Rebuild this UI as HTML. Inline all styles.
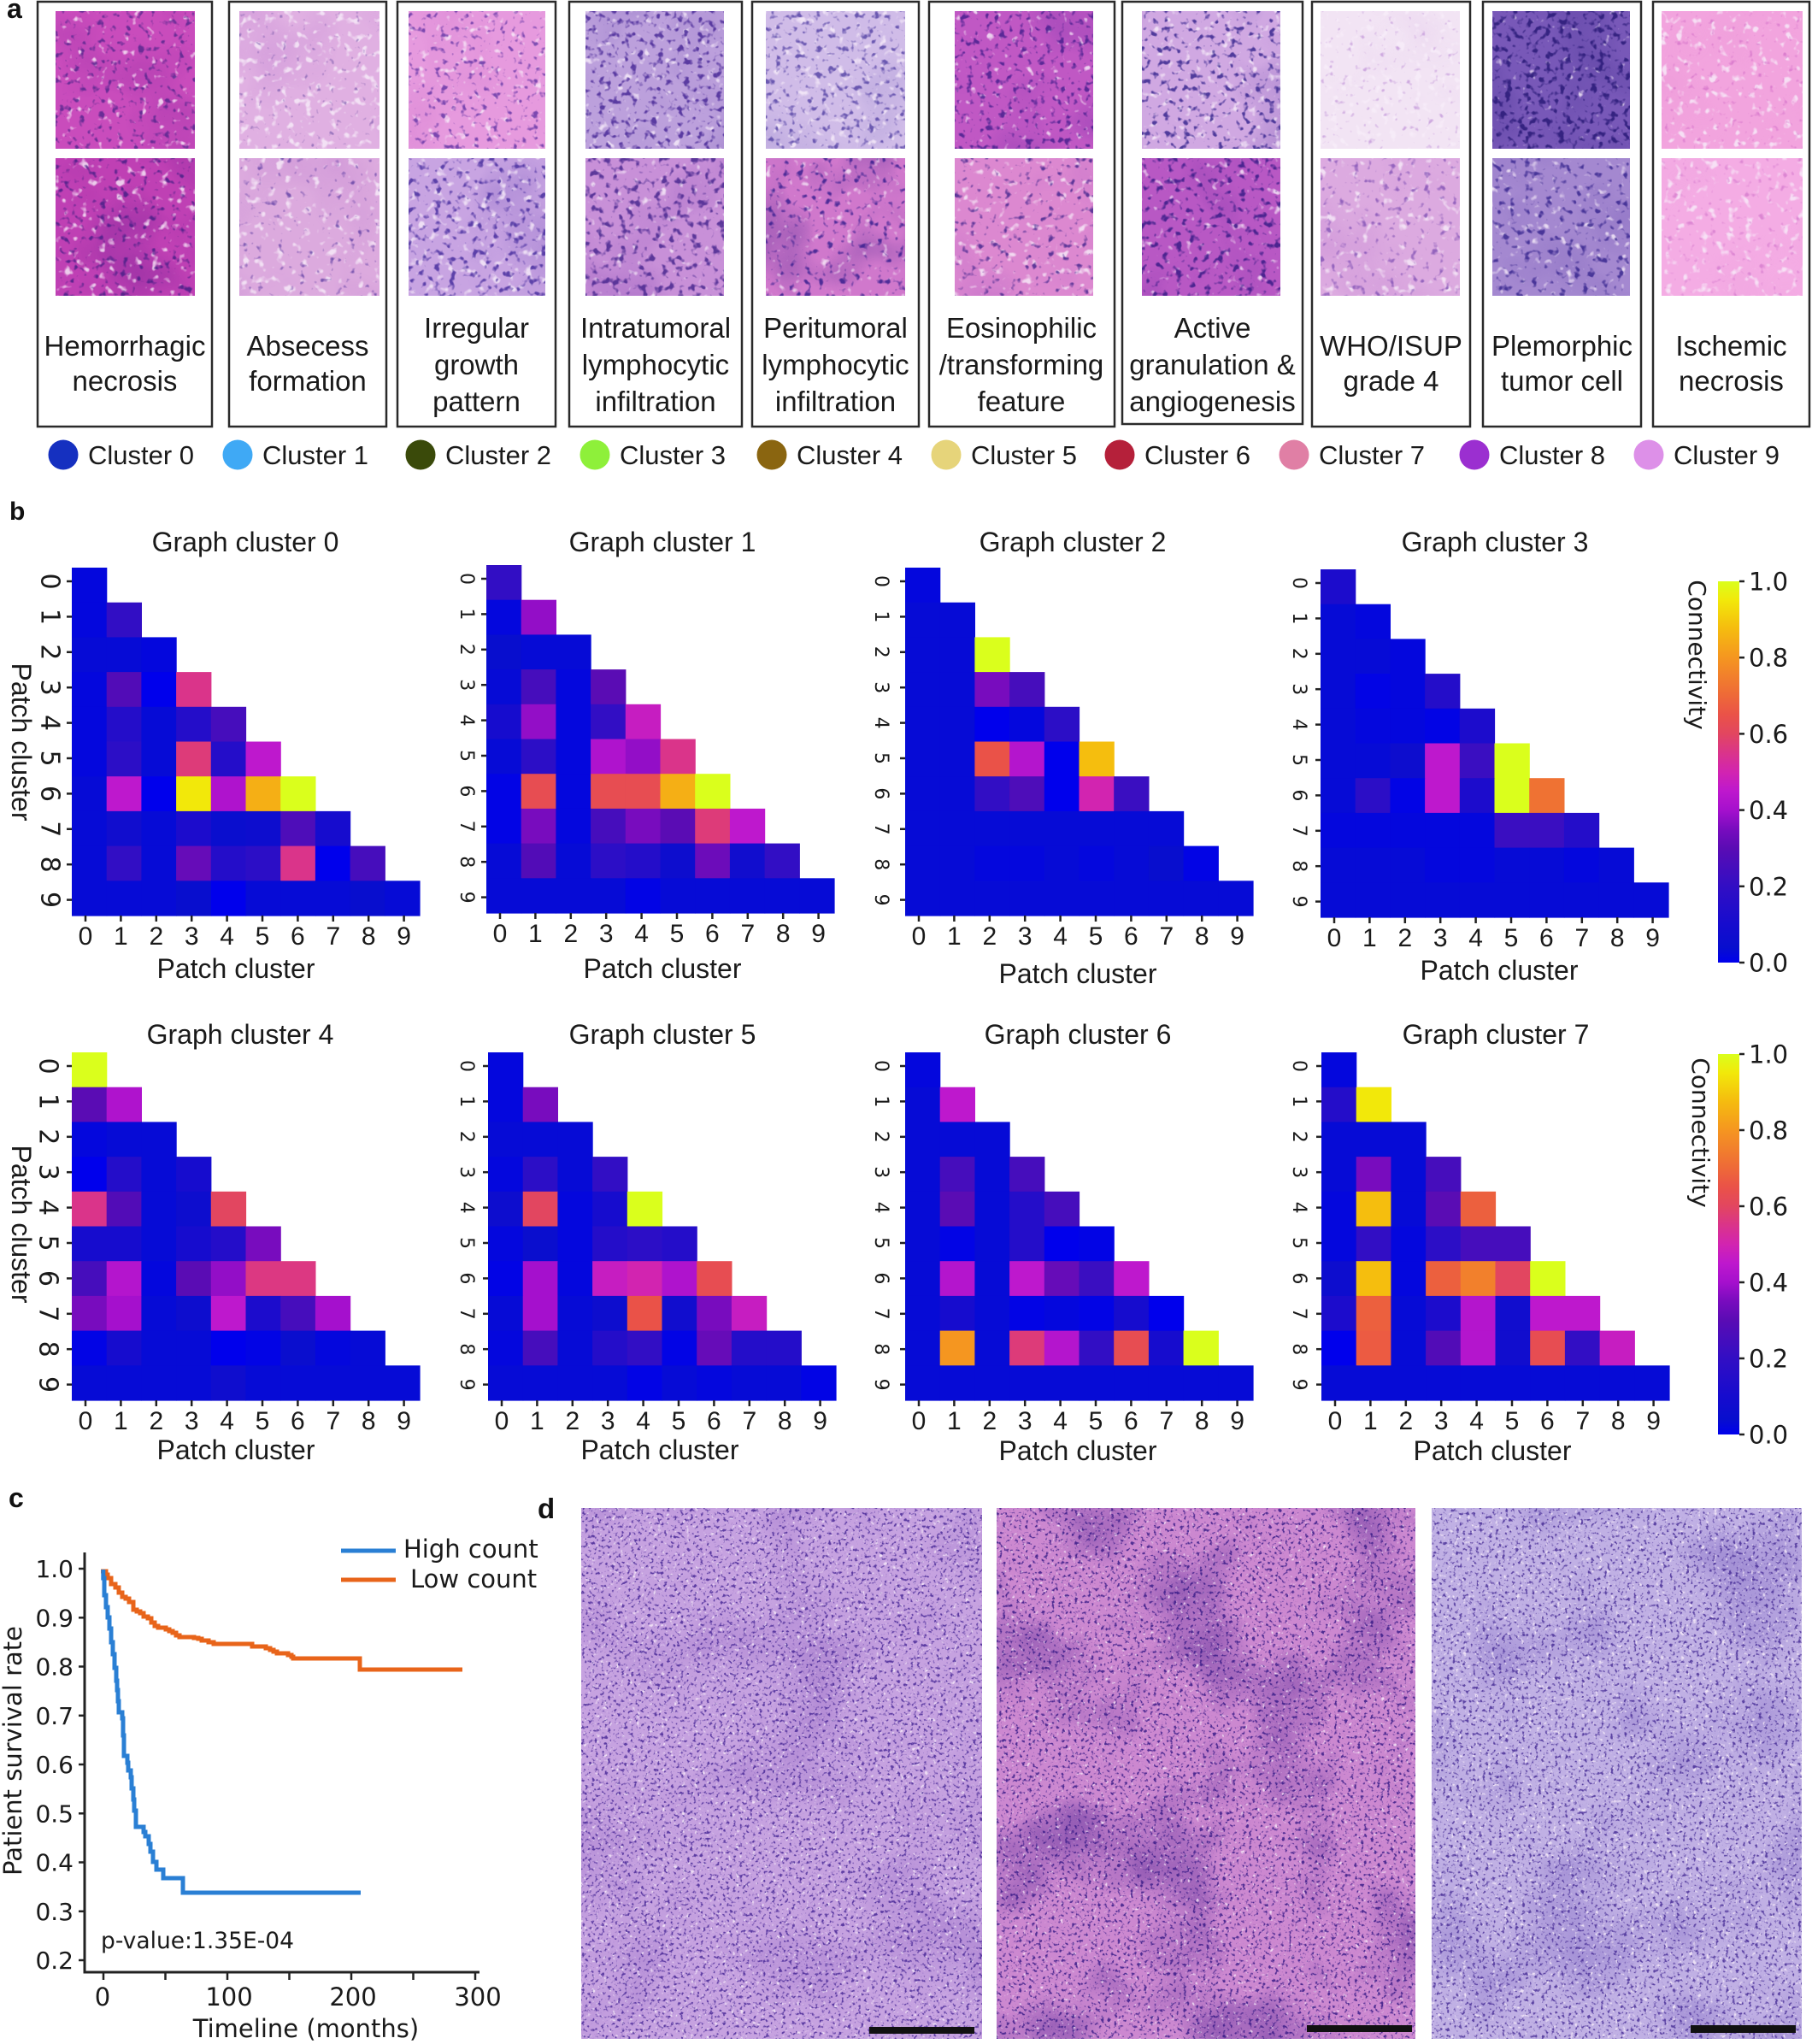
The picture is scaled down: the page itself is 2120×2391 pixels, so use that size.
<!DOCTYPE html>
<html><head><meta charset="utf-8">
<style>
html,body{margin:0;padding:0;background:#fff;}
svg{display:block;}
.l{font-family:"Liberation Sans",Arial,sans-serif;fill:#1a1a1a;}
.d{font-family:"DejaVu Sans","Liberation Sans",sans-serif;fill:#1a1a1a;}
.b{font-family:"Liberation Sans",Arial,sans-serif;font-weight:bold;fill:#111;}
</style></head><body>
<svg id="s" xmlns="http://www.w3.org/2000/svg" width="2120" height="2391" viewBox="0 0 2120 2391">
<defs id="defs"></defs>
<rect width="2120" height="2391" fill="#fff"/>
<g id="tiles"></g>

<!-- Panel a -->
<text class="b" x="8" y="21" font-size="32">a</text>
<g fill="none" stroke="#2a2a2a" stroke-width="2.5">
<rect x="44" y="2" width="204" height="497"/>
<rect x="268" y="2" width="184" height="497"/>
<rect x="465" y="2" width="185" height="497"/>
<rect x="666" y="2" width="202" height="497"/>
<rect x="880" y="2" width="195" height="497"/>
<rect x="1087" y="2" width="217" height="497"/>
<rect x="1313" y="2" width="211" height="494"/>
<rect x="1535" y="2" width="185" height="497"/>
<rect x="1735" y="2" width="185" height="497"/>
<rect x="1934" y="2" width="183" height="497"/>
</g>
<g class="l" font-size="33" text-anchor="middle">
<text x="146" y="416">Hemorrhagic</text><text x="146" y="457">necrosis</text>
<text x="360" y="416">Absecess</text><text x="360" y="457">formation</text>
<text x="557.5" y="395">Irregular</text><text x="557.5" y="438">growth</text><text x="557.5" y="481">pattern</text>
<text x="767" y="395">Intratumoral</text><text x="767" y="438">lymphocytic</text><text x="767" y="481">infiltration</text>
<text x="977.5" y="395">Peritumoral</text><text x="977.5" y="438">lymphocytic</text><text x="977.5" y="481">infiltration</text>
<text x="1195" y="395">Eosinophilic</text><text x="1195" y="438">/transforming</text><text x="1195" y="481">feature</text>
<text x="1418.5" y="395">Active</text><text x="1418.5" y="438">granulation &amp;</text><text x="1418.5" y="481">angiogenesis</text>
<text x="1627.5" y="416">WHO/ISUP</text><text x="1627.5" y="457">grade 4</text>
<text x="1827.5" y="416">Plemorphic</text><text x="1827.5" y="457">tumor cell</text>
<text x="2025.5" y="416">Ischemic</text><text x="2025.5" y="457">necrosis</text>
</g>
<g>
<circle cx="74" cy="532" r="17.5" fill="#1530c0"/>
<circle cx="278" cy="532" r="17.5" fill="#3fa9f5"/>
<circle cx="492" cy="532" r="17.5" fill="#3a4a0a"/>
<circle cx="696" cy="532" r="17.5" fill="#8ef03a"/>
<circle cx="903" cy="532" r="17.5" fill="#8a6510"/>
<circle cx="1107" cy="532" r="17.5" fill="#e6d47a"/>
<circle cx="1310" cy="532" r="17.5" fill="#b5203a"/>
<circle cx="1514" cy="532" r="17.5" fill="#e07fa5"/>
<circle cx="1725" cy="532" r="17.5" fill="#9b2fd0"/>
<circle cx="1929" cy="532" r="17.5" fill="#dd90e8"/>
</g>
<g class="l" font-size="31">
<text x="103" y="543">Cluster 0</text>
<text x="307" y="543">Cluster 1</text>
<text x="521" y="543">Cluster 2</text>
<text x="725" y="543">Cluster 3</text>
<text x="932" y="543">Cluster 4</text>
<text x="1136" y="543">Cluster 5</text>
<text x="1339" y="543">Cluster 6</text>
<text x="1543" y="543">Cluster 7</text>
<text x="1754" y="543">Cluster 8</text>
<text x="1958" y="543">Cluster 9</text>
</g>

<!-- Panel b -->
<text class="b" x="11" y="608" font-size="30">b</text>
<g id="hm"></g>
<g class="l" font-size="32" text-anchor="middle">
<text x="287" y="645">Graph cluster 0</text>
<text x="775" y="645">Graph cluster 1</text>
<text x="1255" y="645">Graph cluster 2</text>
<text x="1749" y="645">Graph cluster 3</text>
<text x="281" y="1221">Graph cluster 4</text>
<text x="775" y="1221">Graph cluster 5</text>
<text x="1261" y="1221">Graph cluster 6</text>
<text x="1750" y="1221">Graph cluster 7</text>
<text x="276" y="1144">Patch cluster</text>
<text x="775" y="1144">Patch cluster</text>
<text x="1261" y="1150">Patch cluster</text>
<text x="1754" y="1146">Patch cluster</text>
<text x="276" y="1707">Patch cluster</text>
<text x="772" y="1707">Patch cluster</text>
<text x="1261" y="1708">Patch cluster</text>
<text x="1746" y="1708">Patch cluster</text>
<text transform="translate(25,868) rotate(90)" y="11">Patch cluster</text>
<text transform="translate(25,1432) rotate(90)" y="11">Patch cluster</text>
</g>
<!-- x tick labels -->
<g class="l" font-size="30" text-anchor="middle">
<text x="100 141.4 182.8 224.2 265.6 307 348.4 389.8 431.2 472.6" y="1105">0123456789</text>
<text x="585 626.4 667.8 709.2 750.6 792 833.4 874.8 916.2 957.6" y="1102">0123456789</text>
<text x="1075 1116.4 1157.8 1199.2 1240.6 1282 1323.4 1364.8 1406.2 1447.6" y="1105">0123456789</text>
<text x="1561 1602.4 1643.8 1685.2 1726.6 1768 1809.4 1850.8 1892.2 1933.6" y="1107">0123456789</text>
<text x="100 141.4 182.8 224.2 265.6 307 348.4 389.8 431.2 472.6" y="1672">0123456789</text>
<text x="587 628.4 669.8 711.2 752.6 794 835.4 876.8 918.2 959.6" y="1672">0123456789</text>
<text x="1075 1116.4 1157.8 1199.2 1240.6 1282 1323.4 1364.8 1406.2 1447.6" y="1672">0123456789</text>
<text x="1562 1603.4 1644.8 1686.2 1727.6 1769 1810.4 1851.8 1893.2 1934.6" y="1672">0123456789</text>
</g>
<!-- y tick labels (rotated) -->
<g class="d" text-anchor="middle">
<text font-size="30" transform="translate(59,664) rotate(90)" x="16 57.4 98.8 140.2 181.6 223 264.4 305.8 347.2 388.6" y="10.5">0123456789</text>
<text font-size="22" transform="translate(547,661) rotate(90)" x="16 57.4 98.8 140.2 181.6 223 264.4 305.8 347.2 388.6" y="7.8">0123456789</text>
<text font-size="22" transform="translate(1032,664) rotate(90)" x="16 57.4 98.8 140.2 181.6 223 264.4 305.8 347.2 388.6" y="7.8">0123456789</text>
<text font-size="22" transform="translate(1521,666) rotate(90)" x="16 57.4 98.8 140.2 181.6 223 264.4 305.8 347.2 388.6" y="7.8">0123456789</text>
<text font-size="30" transform="translate(57,1231) rotate(90)" x="16 57.4 98.8 140.2 181.6 223 264.4 305.8 347.2 388.6" y="10.5">0123456789</text>
<text font-size="22" transform="translate(547,1231) rotate(90)" x="16 57.4 98.8 140.2 181.6 223 264.4 305.8 347.2 388.6" y="7.8">0123456789</text>
<text font-size="22" transform="translate(1032,1231) rotate(90)" x="16 57.4 98.8 140.2 181.6 223 264.4 305.8 347.2 388.6" y="7.8">0123456789</text>
<text font-size="22" transform="translate(1521,1231) rotate(90)" x="16 57.4 98.8 140.2 181.6 223 264.4 305.8 347.2 388.6" y="7.8">0123456789</text>
</g>
<!-- colorbars -->
<rect x="2010" y="680" width="25" height="446" fill="url(#cb)"/>
<rect x="2010" y="1233" width="25" height="445" fill="url(#cb)"/>
<g stroke="#222" stroke-width="2.5">
<line x1="2035" y1="680" x2="2041" y2="680"/><line x1="2035" y1="769.2" x2="2041" y2="769.2"/><line x1="2035" y1="858.4" x2="2041" y2="858.4"/><line x1="2035" y1="947.6" x2="2041" y2="947.6"/><line x1="2035" y1="1036.8" x2="2041" y2="1036.8"/><line x1="2035" y1="1126" x2="2041" y2="1126"/>
<line x1="2035" y1="1233" x2="2041" y2="1233"/><line x1="2035" y1="1322" x2="2041" y2="1322"/><line x1="2035" y1="1411" x2="2041" y2="1411"/><line x1="2035" y1="1500" x2="2041" y2="1500"/><line x1="2035" y1="1589" x2="2041" y2="1589"/><line x1="2035" y1="1678" x2="2041" y2="1678"/>
</g>
<g class="d" font-size="29">
<text x="2046" y="690.5">1.0</text><text x="2046" y="779.7">0.8</text><text x="2046" y="868.9">0.6</text><text x="2046" y="958.1">0.4</text><text x="2046" y="1047.3">0.2</text><text x="2046" y="1136.5">0.0</text>
<text x="2046" y="1243.5">1.0</text><text x="2046" y="1332.5">0.8</text><text x="2046" y="1421.5">0.6</text><text x="2046" y="1510.5">0.4</text><text x="2046" y="1599.5">0.2</text><text x="2046" y="1688.5">0.0</text>
</g>
<g class="d" font-size="28" text-anchor="middle">
<text transform="translate(1986,766) rotate(90)" y="10">Connectivity</text>
<text transform="translate(1990,1325) rotate(90)" y="10">Connectivity</text>
</g>

<!-- Panel c -->
<text class="b" x="10" y="1763" font-size="32">c</text>
<g stroke="#222" stroke-width="3" fill="none">
<path d="M99,1816 V2307 H561"/>
</g>
<g stroke="#222" stroke-width="2.5">
<line x1="92" y1="1835" x2="99" y2="1835"/><line x1="92" y1="1892.3" x2="99" y2="1892.3"/><line x1="92" y1="1949.5" x2="99" y2="1949.5"/><line x1="92" y1="2006.8" x2="99" y2="2006.8"/><line x1="92" y1="2064" x2="99" y2="2064"/><line x1="92" y1="2121.3" x2="99" y2="2121.3"/><line x1="92" y1="2178.5" x2="99" y2="2178.5"/><line x1="92" y1="2235.8" x2="99" y2="2235.8"/><line x1="92" y1="2293" x2="99" y2="2293"/>
<line x1="121" y1="2307" x2="121" y2="2316"/><line x1="193.5" y1="2307" x2="193.5" y2="2316"/><line x1="266" y1="2307" x2="266" y2="2316"/><line x1="338.5" y1="2307" x2="338.5" y2="2316"/><line x1="411" y1="2307" x2="411" y2="2316"/><line x1="483.5" y1="2307" x2="483.5" y2="2316"/><line x1="556" y1="2307" x2="556" y2="2316"/>
</g>
<g class="d" font-size="28" text-anchor="end">
<text x="86" y="1845">1.0</text><text x="86" y="1902.3">0.9</text><text x="86" y="1959.5">0.8</text><text x="86" y="2016.8">0.7</text><text x="86" y="2074">0.6</text><text x="86" y="2131.3">0.5</text><text x="86" y="2188.5">0.4</text><text x="86" y="2245.8">0.3</text><text x="86" y="2303">0.2</text>
</g>
<g class="d" font-size="29" text-anchor="middle">
<text x="120" y="2346">0</text><text x="268" y="2346">100</text><text x="413" y="2346">200</text><text x="559" y="2346">300</text>
<text x="358" y="2383">Timeline (months)</text>
<text transform="translate(15,2048) rotate(-90)" y="10">Patient survival rate</text>
</g>
<path d="M118,1838 H124 V1842 H126 V1846 H130 V1853 H135 V1857 H139 V1863 H143 V1868 H147 V1870 H151 V1874 H156 V1883 H160 V1885 H164 V1887 H168 V1891 H173 V1893 H177 V1898 H181 V1902 H185 V1904 H194 V1906 H198 V1908 H202 V1910 H206 V1913 H210 V1915 H227 V1916 H232 V1917 H236 V1919 H244 V1921 H250 V1923 H295 V1926 H311 V1928 H316 V1930 H320 V1932 H324 V1934 H337 V1936 H341 V1938 H343 V1940 H421 V1953 H541" fill="none" stroke="#e8641a" stroke-width="5"/>
<path d="M120.8,1836 V1846 H122 V1866 H124 V1880 H126 V1892 H128 V1905 H130 V1921 H132 V1935 H134 V1951 H136 V1966 H137 V1977 H138 V1990 H139 V2003 H143 V2010 H144 V2030 H145 V2054 H149 V2062 H150 V2071 H153 V2079 H154 V2092 H156 V2105 H157 V2118 H159 V2137 H168 V2143 H170 V2148 H174 V2157 H176 V2166 H179 V2178 H183 V2187 H191 V2197 H214 V2214 H422" fill="none" stroke="#2a7fd4" stroke-width="5"/>
<line x1="399" y1="1814" x2="463" y2="1814" stroke="#2a7fd4" stroke-width="5"/>
<line x1="399" y1="1848" x2="463" y2="1848" stroke="#e8641a" stroke-width="5"/>
<g class="d" font-size="29">
<text x="472" y="1822">High count</text>
<text x="480" y="1857">Low count</text>
</g>
<text class="d" font-size="26.5" x="118" y="2279">p-value:1.35E-04</text>

<!-- Panel d -->
<text class="b" x="629" y="1776" font-size="33">d</text>
<g id="dtiles"></g>
<g fill="#111">
<rect x="1017" y="2371" width="123" height="8"/>
<rect x="1529" y="2369" width="123" height="8"/>
<rect x="1978" y="2369" width="123" height="9"/>
</g>
</svg>
<script>
(function(){
var S=[[0,[0,0,236]],[0.04,[8,14,206]],[0.1,[22,12,206]],[0.2,[50,14,196]],[0.3,[90,12,180]],[0.35,[120,12,190]],[0.4,[165,16,205]],[0.45,[190,24,205]],[0.5,[210,36,176]],[0.55,[218,52,138]],[0.6,[226,70,96]],[0.65,[234,82,72]],[0.7,[238,105,56]],[0.8,[245,150,32]],[0.88,[245,190,14]],[0.95,[242,232,10]],[1,[218,255,28]]];
function cm(v){for(var i=1;i<S.length;i++){if(v<=S[i][0]){var a=S[i-1],b=S[i],t=(v-a[0])/(b[0]-a[0]);return 'rgb('+a[1].map(function(c,k){return Math.round(c+(b[1][k]-c)*t);}).join(',')+')';}}return 'rgb(218,255,28)';}
var defs='';
var g='<linearGradient id="cb" x1="0" y1="1" x2="0" y2="0">';
for(var i=0;i<S.length;i++){g+='<stop offset="'+S[i][0]+'" stop-color="'+cm(S[i][0])+'"/>';}
g+='</linearGradient>';
defs+=g;
var Z=[0.03,0.03,0.03,0.03,0.03,0.03,0.03,0.03,0.03,0.03];
var GC0=[[0.02],[0.02,0.2],[0.03,0.03,0.02],[0.02,0.28,0.0,0.55],[0.02,0.15,0.03,0.15,0.25],[0.02,0.18,0.03,0.57,0.15,0.45],[0.03,0.45,0.0,0.95,0.42,0.85,1.0],[0.03,0.08,0.03,0.12,0.05,0.06,0.27,0.1],[0.03,0.2,0.03,0.32,0.15,0.18,0.55,0.0,0.25],[0.03,0.03,0.03,0.04,0.0,0.03,0.03,0.03,0.04,0.03]];
var GC1=[[0.2],[0.02,0.38],[0.04,0.03,0.03],[0.03,0.25,0.02,0.3],[0.1,0.38,0.02,0.2,0.47],[0.03,0.18,0.02,0.42,0.38,0.55],[0.01,0.63,0.02,0.63,0.63,0.85,1.0],[0.01,0.35,0.02,0.25,0.35,0.3,0.57,0.45],[0.03,0.28,0.03,0.18,0.15,0.06,0.33,0.08,0.2],[0.03,0.03,0.03,0.03,0.01,0.03,0.03,0.03,0.03,0.03]];
var GC2=[[0.02],[0.03,0.03],[0.03,0.03,1.0],[0.03,0.03,0.35,0.25],[0.03,0.03,0.0,0.02,0.18],[0.03,0.03,0.65,0.43,0.0,0.88],[0.03,0.03,0.2,0.27,0.0,0.5,0.22],[0.03,0.03,0.03,0.03,0.03,0.03,0.03,0.03],[0.03,0.03,0.02,0.02,0.03,0.02,0.03,0.04,0.01],Z];
var GC3=[[0.12],[0.03,0.02],[0.03,0.03,0.02],[0.03,0.01,0.02,0.15],[0.03,0.02,0.02,0.01,0.12],[0.03,0.03,0.06,0.45,0.22,1.0],[0.03,0.18,0.01,0.45,0.12,1.0,0.72],[0.02,0.02,0.02,0.02,0.02,0.22,0.22,0.15],[0.03,0.03,0.03,0.02,0.02,0.03,0.03,0.02,0.03],Z];
var GC4=[[1.0],[0.3,0.42],[0.02,0.03,0.03],[0.0,0.15,0.03,0.1],[0.55,0.28,0.03,0.06,0.6],[0.1,0.1,0.03,0.1,0.15,0.35],[0.25,0.43,0.02,0.3,0.38,0.56,0.56],[0.35,0.4,0.03,0.06,0.45,0.12,0.25,0.4],[0.01,0.1,0.03,0.03,0.0,0.01,0.05,0.02,0.03],[0.03,0.03,0.03,0.03,0.07,0.03,0.03,0.03,0.03,0.03]];
var GC5=[[0.02],[0.02,0.35],[0.03,0.03,0.03],[0.02,0.18,0.03,0.2],[0.06,0.6,0.02,0.1,1.0],[0.02,0.05,0.02,0.15,0.18,0.15],[0.01,0.4,0.02,0.47,0.5,0.42,0.63],[0.03,0.4,0.03,0.06,0.65,0.08,0.35,0.47],[0.02,0.25,0.03,0.15,0.2,0.01,0.32,0.15,0.15],[0.03,0.03,0.03,0.03,0.01,0.03,0.02,0.03,0.03,0.01]];
var GC6=[[0.02],[0.03,0.45],[0.03,0.03,0.03],[0.03,0.25,0.03,0.25],[0.03,0.3,0.03,0.15,0.25],[0.03,0.01,0.03,0.15,0.0,0.01],[0.03,0.43,0.03,0.45,0.32,0.22,0.45],[0.03,0.1,0.03,0.01,0.02,0.01,0.1,0.0],[0.03,0.8,0.03,0.57,0.43,0.2,0.63,0.1,1.0],Z];
var GC7=[[0.02],[0.15,0.95],[0.03,0.03,0.03],[0.03,0.35,0.03,0.25],[0.02,0.88,0.03,0.3,0.68],[0.02,0.2,0.02,0.18,0.25,0.25],[0.06,0.88,0.02,0.68,0.75,0.6,1.0],[0.12,0.68,0.03,0.12,0.43,0.08,0.45,0.45],[0.0,0.67,0.03,0.28,0.43,0.08,0.63,0.2,0.47],Z];
var HM=[[84,664,GC0],[569,661,GC1],[1059,664,GC2],[1545,666,GC3],[84,1231,GC4],[571,1231,GC5],[1059,1231,GC6],[1546,1231,GC7]];
var c=40.7,hm='';
HM.forEach(function(h){var x0=h[0],y0=h[1],D=h[2];
 D.forEach(function(row,i){row.forEach(function(v,j){hm+='<rect x="'+(x0+j*c).toFixed(1)+'" y="'+(y0+i*c).toFixed(1)+'" width="'+(c+0.6)+'" height="'+(c+0.6)+'" fill="'+cm(v)+'"/>';});});
 for(var k=0;k<10;k++){var t=16+41.4*k;
  hm+='<line x1="'+(x0+t)+'" y1="'+(y0+407)+'" x2="'+(x0+t)+'" y2="'+(y0+414)+'" stroke="#222" stroke-width="2.5"/>';
  hm+='<line x1="'+(x0-6)+'" y1="'+(y0+t)+'" x2="'+x0+'" y2="'+(y0+t)+'" stroke="#222" stroke-width="2.5"/>';}
});
document.getElementById('hm').innerHTML=hm;

var fid=0;
function hx(col,o){return (parseInt(col.substr(o,2),16)/255).toFixed(3);}
function filt(freq,oct,seed,ch,thr,k,col){
 var id='f'+(fid++);var row=[0,0,0,0,0];row[ch]=k;row[4]=(-k*thr).toFixed(3);
 defs+='<filter id="'+id+'" x="0" y="0" width="1" height="1" color-interpolation-filters="sRGB"><feTurbulence type="fractalNoise" baseFrequency="'+freq+'" numOctaves="'+oct+'" seed="'+seed+'"/><feColorMatrix type="matrix" values="0 0 0 0 '+hx(col,1)+' 0 0 0 0 '+hx(col,3)+' 0 0 0 0 '+hx(col,5)+' '+row.join(' ')+'"/></filter>';
 return id;}
function tile(x,y,w,h,base,nuc,nt,gt,bc,bo,fq){
 var s=fid,r='x="'+x+'" y="'+y+'" width="'+w+'" height="'+h+'"',o='';
 o+='<rect '+r+' fill="'+base+'"/>';
 o+='<rect '+r+' fill="#000" opacity="'+bo+'" filter="url(#'+filt(0.009,3,s+1,2,0.48,3,bc)+')"/>';
 o+='<rect '+r+' fill="#000" opacity="0.8" filter="url(#'+filt((fq*0.8).toFixed(3),2,s+7,1,gt,6,'#f8eefa')+')"/>';
 o+='<rect '+r+' fill="#000" opacity="0.85" filter="url(#'+filt(fq,2,s+3,0,nt,6,nuc)+')"/>';
 return o;}
var A=[[65,163],[280,164],[478,160],[685,162],[896,163],[1117,162],[1336,162],[1545,163],[1746,161],[1944,165]];
var P=[
 ['#c94cbc','#5a2890',0.60,0.66,'#8a2aa0',0.3],['#bf40b4','#4a2088',0.60,0.62,'#6a2090',0.35],
 ['#e0b0e2','#8060b0',0.68,0.58,'#c080d0',0.3],['#dcaade','#6a48a8',0.66,0.60,'#c080d0',0.3],
 ['#e69ade','#6a3aa8',0.60,0.64,'#c060c0',0.2],['#c8a4e2','#4a30a0',0.58,0.60,'#8060c0',0.3],
 ['#bca0dc','#4a2a98',0.56,0.64,'#7050b0',0.3],['#c890d8','#4a2890',0.56,0.66,'#8040b0',0.3],
 ['#d0bce8','#5a48a8',0.58,0.62,'#9080c8',0.3],['#d078cc','#3a2090',0.60,0.66,'#4a2a90',0.45],
 ['#c058c4','#4a2090',0.58,0.66,'#7030a8',0.3],['#dc88d0','#4a2a90',0.62,0.62,'#a050c0',0.3],
 ['#d0a8e2','#3a2890',0.58,0.62,'#7050b0',0.3],['#b858c4','#3a1c88',0.57,0.66,'#6a2aa0',0.35],
 ['#f2e4f4','#c8a0dc',0.66,0.60,'#e0c0e8',0.3],['#dcaae0','#8858b8',0.62,0.62,'#c080d0',0.3],
 ['#7858b8','#2a1a78',0.54,0.70,'#3a2a88',0.3],['#a488d0','#3a2890',0.60,0.64,'#6a50b0',0.3],
 ['#f2a4de','#d878cc',0.66,0.60,'#e890d4',0.2],['#f4ace4','#d880d0',0.66,0.60,'#e898d8',0.2]];
var tl='';
A.forEach(function(a,i){var p=P[2*i],q=P[2*i+1];
 tl+=tile(a[0],13,a[1],161,p[0],p[1],p[2],p[3],p[4],p[5],0.13);
 tl+=tile(a[0],185,a[1],161,q[0],q[1],q[2],q[3],q[4],q[5],0.12);});
document.getElementById('tiles').innerHTML=tl;
var dt='';
dt+=tile(680,1764,469,621,'#c6a2e0','#4a2a98',0.57,0.64,'#8050b8',0.25,0.26);
dt+=tile(1166,1764,490,621,'#cc88d0','#3a1c88',0.57,0.66,'#4a2090',0.4,0.26);
dt+=tile(1675,1764,433,621,'#c0b0e4','#4a3098',0.57,0.63,'#6a50b8',0.3,0.26);
document.getElementById('dtiles').innerHTML=dt;
document.getElementById('defs').innerHTML=defs;
})();
</script>
</body></html>
